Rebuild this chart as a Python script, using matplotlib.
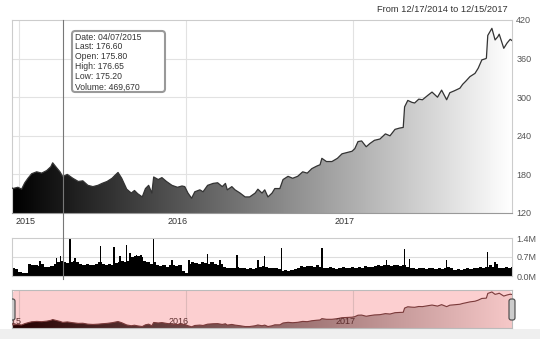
import numpy as np
import pandas as pd
import matplotlib
matplotlib.use("Agg")
import matplotlib.pyplot as plt
import matplotlib.dates as mdates
from matplotlib.colors import LinearSegmentedColormap
from matplotlib.patches import FancyBboxPatch, Rectangle
from matplotlib.lines import Line2D
from matplotlib.transforms import blended_transform_factory

plt.rcParams['font.family'] = ['Liberation Sans', 'DejaVu Sans']

# Ціна закриття
price_dates = ["2014-12-17", "2014-12-19", "2014-12-30", "2015-01-07", "2015-01-14", "2015-01-21",
               "2015-01-29", "2015-02-09", "2015-02-20", "2015-03-03", "2015-03-12", "2015-03-16",
               "2015-03-25", "2015-04-01", "2015-04-07", "2015-04-17", "2015-04-29", "2015-05-11",
               "2015-05-21", "2015-06-01", "2015-06-12", "2015-06-23", "2015-07-02", "2015-07-13",
               "2015-07-24", "2015-07-31", "2015-08-06", "2015-08-14", "2015-08-25", "2015-09-04",
               "2015-09-11", "2015-09-18", "2015-09-28", "2015-10-05", "2015-10-12", "2015-10-19",
               "2015-10-23", "2015-11-02", "2015-11-10", "2015-11-20", "2015-12-02", "2015-12-14",
               "2015-12-24", "2015-12-30", "2016-01-06", "2016-01-14", "2016-01-21", "2016-02-01",
               "2016-02-08", "2016-02-18", "2016-03-01", "2016-03-11", "2016-03-21", "2016-03-28",
               "2016-04-01", "2016-04-11", "2016-04-18", "2016-04-29", "2016-05-10", "2016-05-20",
               "2016-06-01", "2016-06-07", "2016-06-16", "2016-06-22", "2016-06-29", "2016-07-08",
               "2016-07-14", "2016-07-25", "2016-08-01", "2016-08-12", "2016-08-22", "2016-09-02",
               "2016-09-13", "2016-09-23", "2016-10-03", "2016-10-14", "2016-10-21", "2016-10-25",
               "2016-11-04", "2016-11-16", "2016-11-28", "2016-12-08", "2016-12-19", "2016-12-30",
               "2017-01-05", "2017-01-12", "2017-01-20", "2017-01-30", "2017-02-07", "2017-02-17",
               "2017-03-01", "2017-03-13", "2017-03-23", "2017-04-03", "2017-04-13", "2017-04-21",
               "2017-04-24", "2017-05-01", "2017-05-10", "2017-05-16", "2017-05-25", "2017-06-02",
               "2017-06-14", "2017-06-23", "2017-07-05", "2017-07-14", "2017-07-25", "2017-08-01",
               "2017-08-11", "2017-08-23", "2017-08-29", "2017-09-05", "2017-09-14", "2017-09-25",
               "2017-10-02", "2017-10-10", "2017-10-19", "2017-10-20", "2017-10-23", "2017-11-01",
               "2017-11-08", "2017-11-14", "2017-11-17", "2017-11-27", "2017-12-04", "2017-12-11",
               "2017-12-15"]
prices = [159, 158, 160, 157, 167, 174,
          181, 184, 182, 186, 192, 198,
          190, 184, 176.6, 180, 174, 169,
          170, 163, 161, 163, 166, 169,
          174, 179, 183, 174, 157, 151,
          155, 150, 145, 158, 163, 151,
          176, 172, 175, 169, 163, 160,
          162, 161, 151, 143, 153, 156,
          153, 163, 166, 167, 161, 166,
          156, 161, 156, 151, 145, 145,
          151, 157, 151, 156, 145, 151,
          158, 158, 172, 177, 174, 177,
          184, 182, 189, 193, 195, 205,
          200, 200, 205, 212, 214, 216,
          220, 231, 232, 223, 228, 233,
          235, 243, 240, 250, 252, 253,
          285, 295, 292, 291, 297, 296,
          303, 308, 300, 311, 296, 307,
          310, 314, 320, 325, 332, 337,
          345, 358, 360, 361, 396, 407,
          389, 394, 398, 376, 384, 390,
          388]

# Обсяг торгів, млн (по тижнях) та окремі сплески
volume_start = "2014-12-17"
volume_base = [0.30, 0.25, 0.15, 0.10, 0.12, 0.45, 0.40, 0.42, 0.38, 0.45,
               0.35, 0.33, 0.36, 0.45, 0.50, 0.55, 0.50, 0.48, 0.50, 0.55,
               0.50, 0.45, 0.40, 0.45, 0.42, 0.40, 0.45, 0.50, 0.45, 0.40,
               0.45, 0.42, 0.48, 0.50, 0.55, 0.50, 0.55, 0.70, 0.75, 0.72,
               0.70, 0.55, 0.50, 0.45, 0.50, 0.42, 0.38, 0.40, 0.35, 0.42,
               0.40, 0.38, 0.40, 0.20, 0.10, 0.45, 0.50, 0.48, 0.45, 0.50,
               0.48, 0.45, 0.50, 0.45, 0.42, 0.45, 0.35, 0.30, 0.28, 0.30,
               0.32, 0.30, 0.28, 0.25, 0.28, 0.25, 0.30, 0.35, 0.38, 0.35,
               0.30, 0.28, 0.30, 0.25, 0.20, 0.22, 0.20, 0.22, 0.25, 0.30,
               0.38, 0.35, 0.36, 0.38, 0.35, 0.40, 0.35, 0.30, 0.28, 0.35,
               0.30, 0.25, 0.28, 0.35, 0.30, 0.30, 0.32, 0.28, 0.35, 0.30,
               0.38, 0.32, 0.35, 0.38, 0.40, 0.38, 0.42, 0.40, 0.38, 0.40,
               0.42, 0.38, 0.40, 0.35, 0.30, 0.28, 0.25, 0.28, 0.30, 0.25,
               0.28, 0.30, 0.25, 0.28, 0.26, 0.30, 0.35, 0.28, 0.22, 0.25,
               0.22, 0.25, 0.28, 0.25, 0.30, 0.28, 0.32, 0.30, 0.35, 0.40,
               0.35, 0.45, 0.30, 0.28, 0.35, 0.30, 0.35]
spike_dates = ["2015-02-16", "2015-03-25", "2015-04-02", "2015-04-23", "2015-05-04", "2015-06-29",
               "2015-07-28", "2015-08-10", "2015-08-24", "2015-09-01", "2015-09-16", "2015-09-25",
               "2015-10-23", "2015-12-02", "2016-01-08", "2016-02-18", "2016-03-16", "2016-04-22",
               "2016-06-07", "2016-06-22", "2016-07-29", "2016-10-25", "2017-03-16", "2017-04-24",
               "2017-05-05", "2017-07-25", "2017-10-23", "2017-11-08"]
spike_values = [0.55, 0.65, 0.75, 1.40, 0.65, 1.10,
                1.07, 0.75, 1.15, 0.85, 0.78, 0.78,
                1.35, 0.60, 0.60, 0.80, 0.60, 0.78,
                0.60, 0.74, 1.02, 1.05, 0.60, 0.98,
                0.62, 0.60, 0.90, 0.50]

start_date, end_date = "2014-12-17", "2017-12-15"
years = ["2015", "2016", "2017"]
price_ticks = [120, 180, 240, 300, 360, 420]
vol_ticks = [0.0, 0.7, 1.4]
vol_labels = ["0.0M", "0.7M", "1.4M"]

tip_date = "2015-04-07"
tip_lines = ["Date: 04/07/2015", "Last: 176.60", "Open: 175.80",
             "High: 176.65", "Low: 175.20", "Volume: 469,670"]

W, H = 540, 339
fig = plt.figure(figsize=(W / 100, H / 100), dpi=100)


def px_axes(x0, y0, x1, y1):
    return fig.add_axes([x0 / W, 1 - y1 / H, (x1 - x0) / W, (y1 - y0) / H])


ax = px_axes(12, 20, 512, 213)
axv = px_axes(12, 238, 512, 276)
axn = px_axes(12, 290, 512, 328)

xn = mdates.date2num(pd.to_datetime(price_dates))
x0 = mdates.date2num(pd.Timestamp(start_date))
x1 = mdates.date2num(pd.Timestamp(end_date))
year_x = [mdates.date2num(pd.Timestamp(y + "-01-01")) for y in years]
grad = np.linspace(0, 1, 256).reshape(1, -1)


def gradient_area(a, ylo, yhi, colors):
    poly = a.fill_between(xn, prices, ylo, facecolor='none', edgecolor='none')
    cmap = LinearSegmentedColormap.from_list('g', colors)
    im = a.imshow(grad, extent=[x0, x1, ylo, yhi], aspect='auto', cmap=cmap,
                  origin='lower', zorder=2, interpolation='bilinear')
    im.set_clip_path(poly.get_paths()[0], transform=a.transData)
    a.set_xlim(x0, x1)
    a.set_ylim(ylo, yhi)


# Основний графік
gradient_area(ax, 120, 420, ['#000000', '#ffffff'])
ax.plot(xn, prices, color='#333333', lw=0.9, zorder=3)
for v in price_ticks[1:-1]:
    ax.axhline(v, color='#e2e2e2', lw=0.8, zorder=1)
for yx in year_x:
    ax.axvline(yx, color='#e2e2e2', lw=0.8, zorder=1)
ax.yaxis.tick_right()
ax.set_yticks(price_ticks)
ax.set_yticklabels([str(t) for t in price_ticks])
ax.tick_params(axis='y', length=0, pad=3, labelsize=6.5, labelcolor='#555555')
ax.set_xticks([])
for sp in ax.spines.values():
    sp.set_color('#cccccc')
    sp.set_linewidth(0.8)
ax.spines['bottom'].set_color('#999999')
offsets = [7, -8, -8]
for yx, lab, off in zip(year_x, years, offsets):
    ax.annotate(lab, xy=(yx, 0), xycoords=('data', 'axes fraction'),
                xytext=(off, -4), textcoords='offset pixels',
                ha='center', va='top', fontsize=6.5, color='#333333')

# Обсяг
vol_dates = pd.date_range(volume_start, periods=len(volume_base), freq='7D')
axv.bar(mdates.date2num(vol_dates), volume_base, width=7, align='edge',
        color='black', zorder=2)
axv.bar(mdates.date2num(pd.to_datetime(spike_dates)), spike_values, width=3,
        color='black', zorder=2)
axv.axhline(0.7, color='#dddddd', lw=0.8, zorder=1)
axv.set_xlim(x0, x1)
axv.set_ylim(0, 1.4)
axv.yaxis.tick_right()
axv.set_yticks(vol_ticks)
axv.set_yticklabels(vol_labels)
axv.tick_params(axis='y', length=0, pad=3, labelsize=6.5, labelcolor='#555555')
axv.set_xticks([])
for sp in axv.spines.values():
    sp.set_color('#cccccc')
    sp.set_linewidth(0.8)

# Навігатор
axn.add_patch(FancyBboxPatch((0, 0), 1, 1, boxstyle='round,pad=0,rounding_size=0.012',
                             mutation_aspect=500 / 38, transform=axn.transAxes,
                             facecolor='#fccfd0', edgecolor='none', zorder=0))
for yx in year_x:
    axn.axvline(yx, color='#ddb9b9', lw=0.8, zorder=1)
gradient_area(axn, 134, 422, ['#250000', '#f6c8c8'])
axn.plot(xn, prices, color='#7a3a3a', lw=0.8, zorder=3)
axn.set_xticks([])
axn.set_yticks([])
for sp in axn.spines.values():
    sp.set_color('#bbbbbb')
    sp.set_linewidth(0.8)
for yx, lab in zip(year_x, years):
    axn.annotate(lab, xy=(yx, 0.16), xycoords=('data', 'axes fraction'),
                 xytext=(-7, 0), textcoords='offset pixels', ha='center', va='center',
                 fontsize=6.5, color='#5b2b2b', zorder=4, annotation_clip=False,
                 clip_on=True)

# Ручки навігатора
for hx0, clip in [(9, True), (509, False)]:
    h = FancyBboxPatch((hx0 / W, 1 - 320 / H), 6 / W, 21 / H,
                       boxstyle='round,pad=0,rounding_size=0.004', mutation_aspect=W / H,
                       transform=fig.transFigure, facecolor='#cccccc',
                       edgecolor='#444444', lw=0.8, zorder=5)
    fig.add_artist(h)
    if clip:
        h.set_clip_box(axn.bbox)

fig.add_artist(Rectangle((0, 0), 1, 10 / H, transform=fig.transFigure,
                         facecolor='#efefef', edgecolor='none', zorder=0))

# Перехрестя та підказка
xc = mdates.date2num(pd.Timestamp(tip_date))
fig.add_artist(Line2D([xc, xc], [1 - 279 / H, 1 - 20 / H],
                      transform=blended_transform_factory(ax.transData, fig.transFigure),
                      color='#777777', lw=0.8, zorder=6))
fig.add_artist(FancyBboxPatch((72 / W, 1 - 92 / H), 93 / W, 61 / H,
                              boxstyle='round,pad=0,rounding_size=0.006',
                              mutation_aspect=W / H, transform=fig.transFigure,
                              facecolor='white', edgecolor='#999999', lw=1.5, zorder=7))
fig.text(75 / W, 1 - 32.5 / H, "\n".join(tip_lines), ha='left', va='top',
         fontsize=6.2, color='#333333', linespacing=1.14, zorder=8)

fig.text(508 / W, 1 - 10 / H, "From 12/17/2014 to 12/15/2017", ha='right',
         va='center', fontsize=6.7, color='#333333')

fig.savefig("out.png", dpi=100)
